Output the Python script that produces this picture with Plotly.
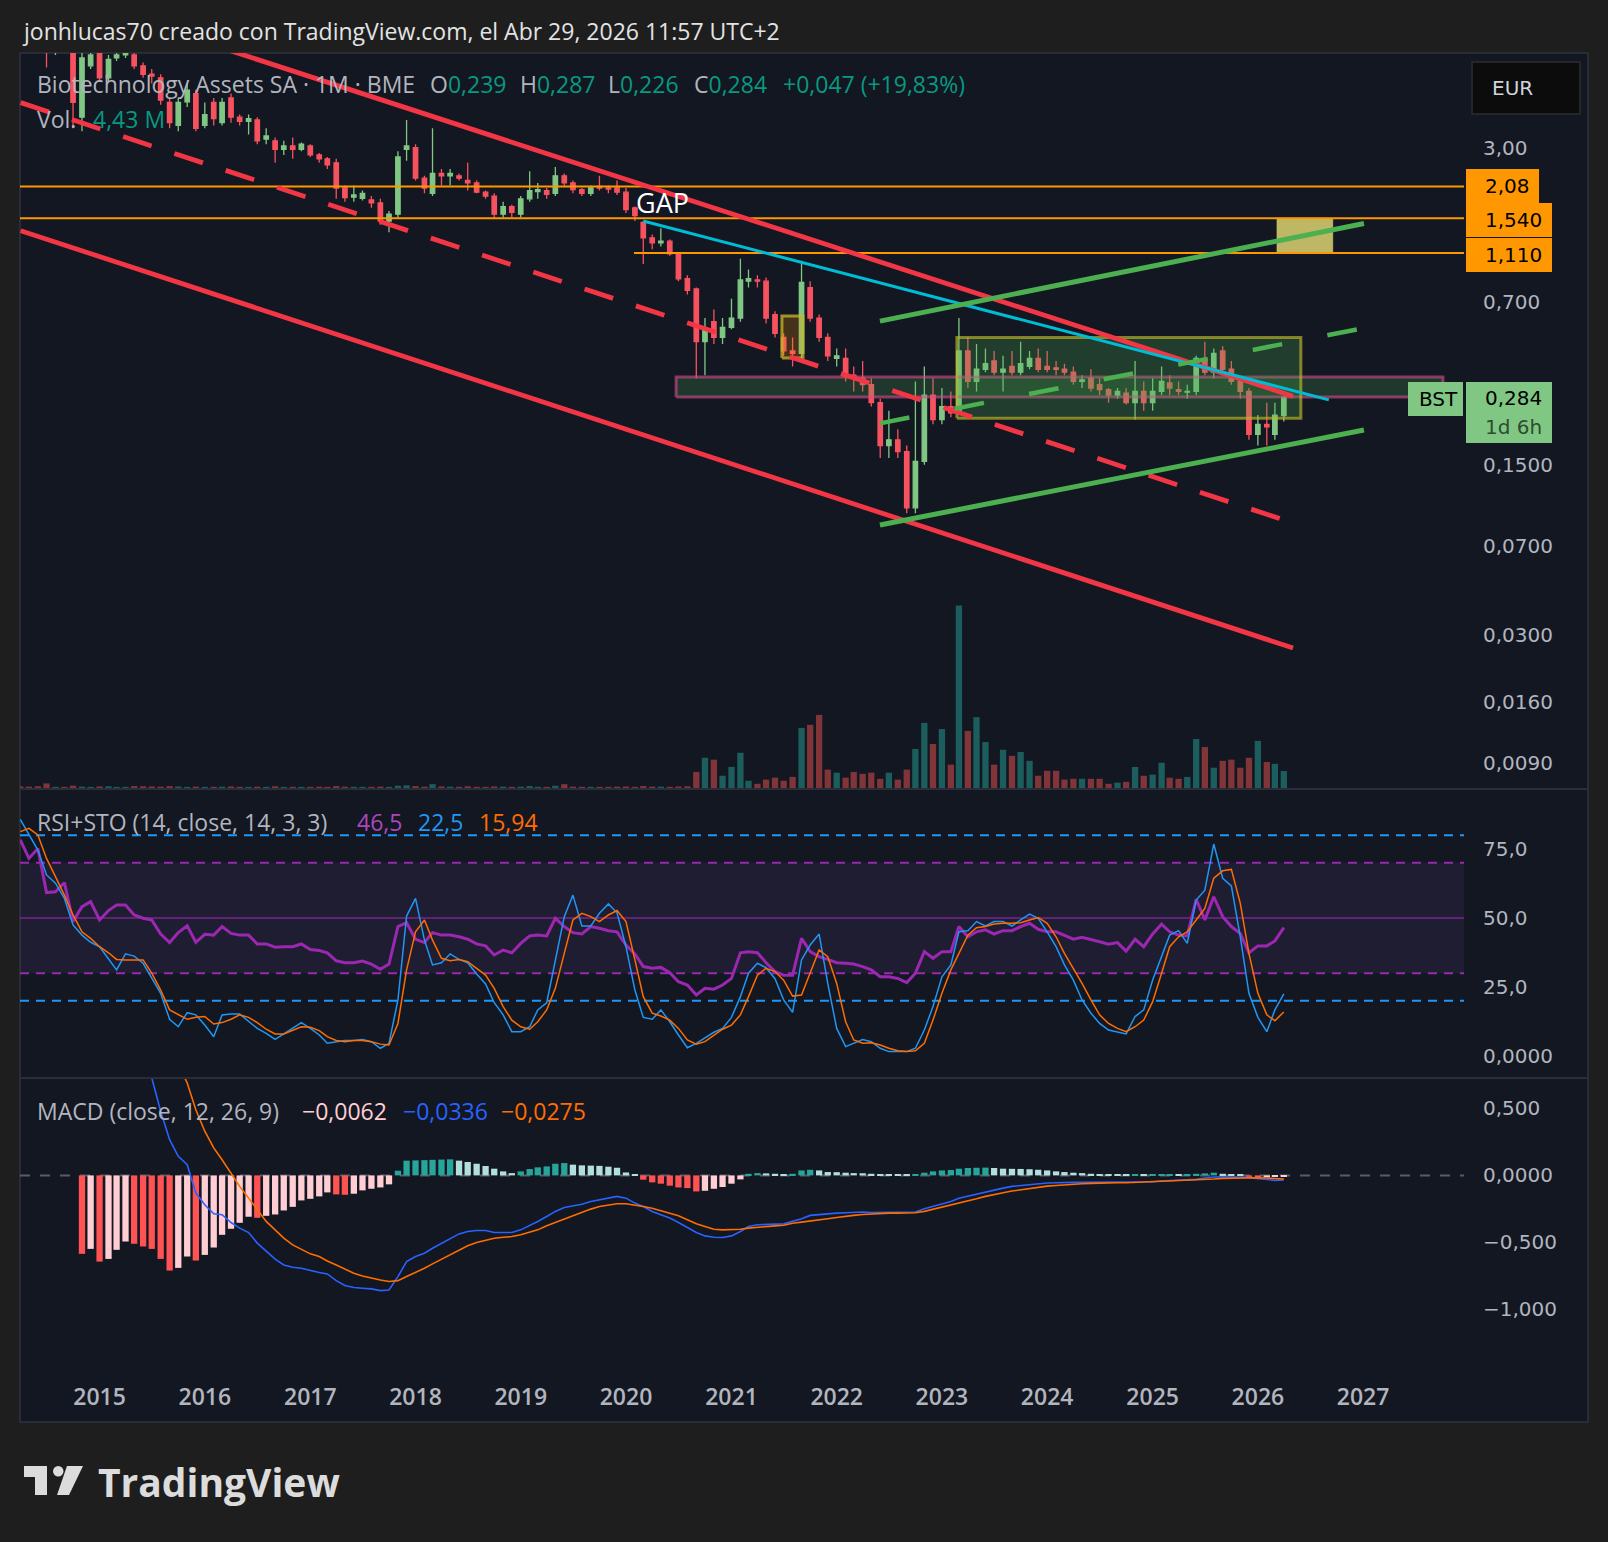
import plotly.graph_objects as go
import pandas as pd

W, H = 1608, 1542
def px(x): return x / W
def py(y): return 1 - y / H

BG_OUT = "#1e1e1e"
BG = "#131722"
TXT = "#b2b5be"
UP = "#81c784"
DN = "#f7525f"
TEAL_TXT = "#089981"
SANS = "Open Sans"
AXF = "DejaVu Sans"

# ---------------- data (monthly, Apr 2014 .. Apr 2026) ----------------
months = pd.date_range("2014-04-01", "2026-04-01", freq="MS")

open_ = [9.5, 9.2, 8.6, 8.2, 7.8, 8.0, 7.9, 4.0, 6.5,
         7.3, 5.8, 7.0, 7.2, 7.2, 6.5, 6.0, 5.8, 4.6, 3.7, 4.62, 5.0,
         3.7, 4.6, 3.8, 4.8, 4.0, 3.85, 3.9, 3.25, 3.2, 2.95, 3.05, 2.95,
         3.05, 2.8, 2.7, 2.6, 2.05, 1.88, 1.86, 1.83, 1.78, 1.5, 1.6, 2.95,
         3.0, 2.25, 1.95, 2.35, 2.3, 2.3, 2.2, 2.15, 1.97, 1.9, 1.6, 1.72,
         1.6, 1.85, 1.98, 2.0, 1.95, 2.3, 2.15, 2.02, 1.95, 2.08, 2.05, 2.05,
         1.97, 1.7, 1.48, 1.28, 1.22, 1.24, 1.1, 0.87, 0.79, 0.48, 0.58, 0.5,
         0.55, 0.6, 0.85, 0.86, 0.85, 0.62, 0.5, 0.44, 0.43, 0.8, 0.6, 0.5,
         0.41, 0.41, 0.35, 0.34, 0.32, 0.27, 0.18, 0.19, 0.17, 0.1, 0.155, 0.29,
         0.23, 0.26, 0.245, 0.44, 0.33, 0.37, 0.4, 0.36, 0.38, 0.36, 0.38, 0.41,
         0.38, 0.375, 0.37, 0.36, 0.33, 0.34, 0.32, 0.305, 0.29, 0.295, 0.27, 0.3,
         0.27, 0.3, 0.325, 0.305, 0.298, 0.3, 0.41, 0.36, 0.44, 0.37, 0.33, 0.3,
         0.2, 0.22, 0.2, 0.239]
high = [10.5, 9.8, 9.4, 8.8, 8.3, 8.6, 8.2, 7.4, 7.5,
        7.6, 7.2, 7.5, 8.5, 7.8, 6.7, 6.3, 6.0, 4.8, 4.8, 5.5, 5.2,
        4.6, 4.8, 4.8, 5.0, 4.1, 4.1, 4.0, 3.6, 3.3, 3.2, 3.3, 3.15,
        3.1, 2.85, 2.75, 2.7, 2.1, 2.1, 2.0, 1.9, 1.85, 1.65, 2.9, 3.9,
        3.1, 2.3, 3.6, 2.45, 2.45, 2.35, 2.6, 2.2, 2.0, 1.95, 1.8, 1.75,
        1.9, 2.4, 2.15, 2.05, 2.5, 2.35, 2.2, 2.05, 2.1, 2.3, 2.1, 2.2,
        2.05, 1.72, 1.5, 1.32, 1.4, 1.26, 1.12, 0.9, 0.8, 0.6, 0.65, 0.6,
        0.72, 1.05, 0.95, 0.9, 0.88, 0.64, 0.52, 0.5, 1.03, 0.85, 0.62, 0.52,
        0.45, 0.45, 0.38, 0.4, 0.34, 0.28, 0.25, 0.21, 0.18, 0.33, 0.38, 0.34,
        0.31, 0.3, 0.6, 0.5, 0.47, 0.45, 0.44, 0.42, 0.44, 0.48, 0.44, 0.45,
        0.44, 0.4, 0.39, 0.38, 0.35, 0.37, 0.34, 0.31, 0.31, 0.31, 0.4, 0.33,
        0.34, 0.38, 0.35, 0.33, 0.32, 0.42, 0.48, 0.45, 0.46, 0.4, 0.34, 0.31,
        0.24, 0.27, 0.27, 0.287]
low = [8.8, 8.4, 7.9, 6.4, 7.2, 7.4, 3.6, 3.5, 6.3,
       5.6, 5.6, 6.8, 7.0, 6.3, 5.8, 5.5, 4.5, 3.6, 3.5, 4.4, 3.5,
       3.6, 3.7, 3.7, 3.8, 3.7, 3.4, 3.1, 3.1, 2.6, 2.8, 2.7, 2.9,
       2.75, 2.6, 2.45, 1.85, 1.8, 1.8, 1.82, 1.7, 1.45, 1.35, 1.55, 2.65,
       2.2, 1.95, 1.9, 2.1, 2.1, 2.2, 2.0, 1.95, 1.85, 1.55, 1.55, 1.55,
       1.55, 1.8, 1.85, 1.85, 1.9, 2.1, 1.95, 1.9, 1.9, 2.0, 1.95, 1.92,
       1.62, 1.5, 1.0, 1.15, 1.18, 1.08, 0.85, 0.75, 0.34, 0.35, 0.47, 0.47,
       0.54, 0.58, 0.8, 0.8, 0.57, 0.5, 0.42, 0.38, 0.4, 0.58, 0.48, 0.4,
       0.38, 0.33, 0.3, 0.3, 0.26, 0.16, 0.16, 0.16, 0.095, 0.095, 0.15, 0.22,
       0.22, 0.235, 0.24, 0.31, 0.3, 0.36, 0.35, 0.3, 0.35, 0.35, 0.37, 0.36,
       0.36, 0.35, 0.35, 0.32, 0.31, 0.3, 0.29, 0.27, 0.28, 0.265, 0.23, 0.25,
       0.25, 0.29, 0.29, 0.29, 0.28, 0.29, 0.35, 0.34, 0.35, 0.32, 0.28, 0.19,
       0.18, 0.18, 0.19, 0.226]
close = [9.2, 8.6, 8.2, 7.6, 8.0, 7.9, 4.6, 7.0, 7.2,
         5.8, 6.9, 7.2, 7.6, 6.5, 6.0, 5.9, 4.7, 3.8, 4.6, 5.17, 3.6,
         4.1, 3.95, 4.6, 4.0, 3.85, 3.95, 3.2, 3.35, 2.95, 3.05, 2.95, 3.1,
         2.8, 2.7, 2.55, 2.05, 1.87, 1.92, 1.95, 1.78, 1.5, 1.6, 2.75, 3.05,
         2.25, 2.05, 2.35, 2.3, 2.35, 2.25, 2.15, 1.97, 1.9, 1.6, 1.72, 1.63,
         1.85, 2.0, 2.02, 1.93, 2.3, 2.15, 2.02, 1.95, 2.05, 2.05, 2.03, 1.97,
         1.67, 1.58, 1.28, 1.22, 1.24, 1.1, 0.87, 0.78, 0.48, 0.54, 0.5, 0.55,
         0.6, 0.86, 0.87, 0.85, 0.6, 0.52, 0.44, 0.43, 0.84, 0.6, 0.5, 0.42,
         0.42, 0.35, 0.34, 0.32, 0.27, 0.18, 0.19, 0.17, 0.1, 0.155, 0.29, 0.23,
         0.26, 0.245, 0.44, 0.33, 0.37, 0.39, 0.36, 0.37, 0.36, 0.39, 0.41, 0.37,
         0.37, 0.37, 0.36, 0.33, 0.335, 0.31, 0.305, 0.29, 0.3, 0.27, 0.3, 0.27,
         0.3, 0.33, 0.31, 0.3, 0.3, 0.41, 0.36, 0.43, 0.37, 0.33, 0.3, 0.2,
         0.22, 0.215, 0.24, 0.284]
volume_m = [0.4, 0.35, 0.45, 1.2, 0.3, 0.3, 0.6, 0.35, 0.3,
            0.4, 0.45, 0.3, 0.3, 0.5, 0.45, 0.4, 0.35, 0.5, 0.4, 0.3, 0.35,
            0.3, 0.3, 0.35, 0.4, 0.3, 0.3, 0.35, 0.3, 0.45, 0.3, 0.3, 0.3,
            0.3, 0.35, 0.3, 0.5, 0.35, 0.3, 0.3, 0.3, 0.35, 0.3, 0.6, 0.7,
            0.5, 0.35, 1.0, 0.4, 0.35, 0.3, 0.45, 0.3, 0.3, 0.4, 0.35, 0.3,
            0.35, 0.5, 0.3, 0.3, 0.6, 1.0, 0.35, 0.3, 0.3, 0.3, 0.3, 0.35,
            0.4, 0.3, 0.5, 0.35, 0.35, 0.3, 0.4, 0.45, 4.2, 7.9, 7.4, 3.2,
            5.5, 9.2, 1.9, 1.1, 2.2, 2.7, 1.9, 2.9, 15.7, 16.5, 19.1, 4.8,
            4.0, 2.7, 4.2, 3.7, 4.0, 2.4, 4.0, 2.2, 4.8, 10.2, 17.0, 11.5,
            15.4, 6.1, 47.7, 14.9, 18.5, 12.0, 6.1, 10.0, 8.4, 9.4, 7.1, 3.2,
            4.5, 4.5, 2.2, 2.4, 2.4, 2.4, 2.4, 1.1, 1.4, 1.6, 5.5, 3.2,
            3.5, 6.6, 2.7, 2.4, 2.9, 12.8, 10.7, 5.3, 7.1, 7.4, 5.3, 7.9,
            12.3, 6.8, 6.3, 4.43]

rsi = [78.3, 71.6, 75.2, 59.2, 59.5, 62.8, 48.7, 54.1, 55.9,
       49.3, 52.7, 54.7, 54.7, 51.1, 49.9, 49.3, 44.2, 41.1, 44.7, 47.2, 41.2,
       44.1, 43.8, 46.9, 44.4, 43.8, 43.8, 40.6, 40.6, 39.4, 39.6, 39.6, 40.6,
       38.6, 38.2, 37.4, 34.5, 33.8, 33.8, 34.4, 33.3, 31.4, 33.3, 46.9, 48.3,
       42.3, 41.1, 44.7, 43.8, 43.8, 43.2, 42.3, 40.6, 39.9, 36.6, 38.4, 37.4,
       40.8, 43.5, 43.8, 43.5, 49.9, 46.9, 44.7, 44.2, 46.9, 46.3, 45.4, 45.0,
       40.2, 37.0, 32.4, 31.8, 32.1, 30.2, 26.9, 25.7, 22.1, 24.5, 24.2, 25.7,
       28.1, 37.4, 37.8, 37.4, 33.8, 30.6, 29.3, 29.3, 42.6, 37.8, 36.0, 35.0,
       33.8, 33.6, 33.3, 32.4, 31.2, 28.7, 28.7, 28.1, 26.6, 30.0, 37.8, 35.4,
       37.8, 37.8, 46.9, 43.2, 45.0, 45.7, 44.2, 45.4, 45.4, 46.9, 48.1, 45.9,
       45.0, 45.0, 43.8, 42.3, 43.0, 42.3, 41.4, 40.5, 41.1, 38.0, 42.3, 39.6,
       44.2, 47.8, 45.0, 43.8, 43.5, 56.8, 49.3, 57.7, 50.5, 46.9, 44.4, 37.4,
       39.9, 39.9, 41.7, 46.5]
stoch_k = [85.7, 80.1, 74.6, 65.6, 62.6, 57.1, 47.5, 43.8, 41.2,
           39.6, 35.4, 31.2, 37.0, 36.2, 33.6, 28.1, 22.7, 13.3, 10.6, 15.7, 14.9,
           11.2, 7.0, 14.9, 15.2, 15.2, 12.4, 10.0, 8.2, 6.0, 8.0, 10.0, 12.1,
           10.0, 7.6, 4.6, 5.2, 5.6, 5.6, 6.0, 5.2, 2.8, 4.6, 20.3, 50.7,
           57.1, 42.0, 33.0, 33.8, 37.0, 35.0, 33.8, 29.7, 26.1, 19.3, 14.9, 8.8,
           8.8, 10.6, 16.7, 19.3, 34.2, 50.5, 58.3, 47.1, 47.1, 51.7, 55.1, 51.9,
           39.6, 23.9, 14.0, 13.3, 16.7, 12.4, 7.6, 3.0, 4.6, 6.5, 8.6, 10.0,
           14.0, 21.5, 30.0, 33.6, 32.0, 28.0, 20.3, 15.8, 34.8, 40.2, 44.2, 26.3,
           10.0, 3.4, 4.6, 6.0, 5.2, 2.8, 1.6, 1.6, 1.6, 2.8, 9.4, 17.9,
           28.7, 33.0, 45.0, 45.4, 48.7, 47.1, 48.7, 48.7, 47.1, 49.3, 51.4, 49.9,
           45.0, 39.6, 33.0, 27.5, 20.3, 15.5, 11.8, 9.4, 8.8, 8.0, 14.3, 16.7,
           27.5, 36.0, 43.8, 45.4, 40.8, 56.5, 60.1, 76.8, 64.4, 61.6, 43.2, 22.7,
           14.0, 8.8, 16.7, 22.5]
stoch_d = [81.3, 82.5, 80.1, 71.6, 65.0, 58.3, 51.1, 45.0, 42.6,
           39.6, 37.4, 35.0, 34.8, 34.8, 34.8, 30.0, 23.9, 16.7, 14.9, 13.3, 14.0,
           14.3, 11.6, 12.1, 13.3, 14.9, 14.0, 12.1, 9.7, 8.0, 8.0, 9.2, 10.6,
           10.4, 9.2, 7.0, 5.6, 5.2, 5.6, 5.6, 5.2, 4.3, 4.0, 11.8, 31.2,
           45.0, 49.3, 42.0, 35.4, 34.5, 35.0, 34.2, 31.8, 29.3, 24.5, 17.9, 13.0,
           10.6, 9.7, 12.4, 16.7, 24.5, 37.2, 49.3, 51.7, 50.5, 48.7, 51.1, 52.7,
           48.7, 34.8, 21.5, 15.5, 14.5, 13.0, 10.0, 5.8, 4.3, 5.2, 7.6, 9.7,
           11.2, 14.9, 21.5, 29.3, 31.8, 30.6, 27.5, 21.7, 22.1, 30.0, 38.4, 36.0,
           26.3, 12.4, 5.8, 4.6, 4.8, 4.0, 2.8, 1.9, 1.6, 1.9, 4.6, 13.0,
           22.7, 31.2, 37.2, 43.8, 46.5, 46.9, 47.8, 48.1, 48.1, 48.3, 49.3, 50.2,
           48.1, 43.2, 37.2, 31.8, 26.3, 20.3, 14.9, 11.8, 10.0, 8.8, 10.6, 13.0,
           19.7, 30.0, 39.6, 43.2, 45.0, 49.3, 53.5, 64.4, 67.1, 67.6, 55.3, 37.2,
           22.7, 14.9, 12.8, 15.94]

macd_hist = [None, None, None, None, None, None, None, -0.586, -0.549,
             -0.644, -0.624, -0.556, -0.494, -0.511, -0.531, -0.549, -0.624, -0.711, -0.691, -0.606, -0.636,
             -0.594, -0.539, -0.444, -0.399, -0.354, -0.309, -0.317, -0.302, -0.292, -0.262, -0.235, -0.187,
             -0.175, -0.157, -0.127, -0.142, -0.145, -0.137, -0.112, -0.1, -0.09, -0.067, 0.035, 0.11,
             0.112, 0.114, 0.116, 0.118, 0.12, 0.11, 0.1, 0.087, 0.07, 0.05, 0.03, 0.017,
             0.03, 0.047, 0.06, 0.067, 0.087, 0.092, 0.08, 0.075, 0.073, 0.071, 0.065, 0.057,
             0.022, 0.005, -0.032, -0.052, -0.062, -0.077, -0.09, -0.095, -0.12, -0.115, -0.1, -0.087,
             -0.062, -0.03, 0.012, 0.017, 0.015, 0.012, 0.007, 0.012, 0.037, 0.042, 0.037, 0.025,
             0.024, 0.02, 0.017, 0.016, 0.012, 0.007, 0.005, 0.004, 0.003, 0.01, 0.02, 0.03,
             0.037, 0.04, 0.05, 0.055, 0.057, 0.058, 0.055, 0.05, 0.049, 0.048, 0.046, 0.042,
             0.037, 0.03, 0.025, 0.02, 0.017, 0.012, 0.01, 0.007, 0.005, 0.004, 0.006, 0.005,
             0.006, 0.007, 0.008, 0.006, 0.007, 0.012, 0.015, 0.02, 0.012, 0.007, 0.005, -0.017,
             -0.018, -0.015, -0.012, -0.0062]
macd_line = [2.57, 2.56, 2.54, 2.5, 2.45, 2.38, 2.3, 2.2, 2.08,
             1.95, 1.8, 1.62, 1.42, 1.2, 0.97, 0.73, 0.479, 0.267, 0.142, 0.08, -0.132,
             -0.22, -0.287, -0.294, -0.352, -0.394, -0.427, -0.506, -0.569, -0.626, -0.669, -0.686, -0.694,
             -0.711, -0.726, -0.736, -0.786, -0.823, -0.838, -0.843, -0.848, -0.861, -0.856, -0.756, -0.644,
             -0.606, -0.581, -0.544, -0.506, -0.469, -0.437, -0.419, -0.412, -0.412, -0.427, -0.427, -0.427,
             -0.407, -0.377, -0.344, -0.307, -0.269, -0.24, -0.227, -0.215, -0.195, -0.182, -0.17, -0.157,
             -0.17, -0.207, -0.232, -0.269, -0.294, -0.319, -0.352, -0.387, -0.427, -0.452, -0.462, -0.464,
             -0.452, -0.419, -0.382, -0.369, -0.364, -0.364, -0.362, -0.344, -0.324, -0.299, -0.292, -0.289,
             -0.282, -0.279, -0.274, -0.274, -0.277, -0.277, -0.279, -0.279, -0.279, -0.274, -0.25, -0.232,
             -0.212, -0.195, -0.17, -0.155, -0.137, -0.12, -0.107, -0.095, -0.082, -0.075, -0.067, -0.062,
             -0.057, -0.055, -0.052, -0.052, -0.052, -0.052, -0.052, -0.052, -0.05, -0.05, -0.05, -0.05,
             -0.047, -0.042, -0.04, -0.037, -0.035, -0.03, -0.02, -0.012, -0.01, -0.01, -0.012, -0.017,
             -0.025, -0.032, -0.037, -0.0336]
macd_signal = [2.95, 2.95, 2.93, 2.92, 2.9, 2.88, 2.85, 2.79, 2.63,
               2.59, 2.42, 2.18, 1.91, 1.71, 1.5, 1.28, 1.1, 0.98, 0.83, 0.69, 0.49,
               0.33, 0.205, 0.117, 0.017, -0.082, -0.17, -0.257, -0.344, -0.407, -0.469, -0.519, -0.551,
               -0.586, -0.606, -0.639, -0.669, -0.701, -0.731, -0.751, -0.768, -0.781, -0.793, -0.786, -0.756,
               -0.726, -0.694, -0.661, -0.626, -0.594, -0.561, -0.526, -0.501, -0.482, -0.469, -0.462, -0.457,
               -0.444, -0.427, -0.407, -0.377, -0.352, -0.327, -0.302, -0.277, -0.252, -0.232, -0.22, -0.212,
               -0.212, -0.22, -0.232, -0.245, -0.262, -0.282, -0.302, -0.332, -0.362, -0.382, -0.402, -0.407,
               -0.407, -0.402, -0.394, -0.387, -0.382, -0.377, -0.372, -0.357, -0.349, -0.342, -0.332, -0.324,
               -0.314, -0.304, -0.299, -0.292, -0.287, -0.284, -0.282, -0.282, -0.279, -0.279, -0.269, -0.254,
               -0.24, -0.225, -0.207, -0.192, -0.175, -0.157, -0.142, -0.13, -0.117, -0.107, -0.097, -0.087,
               -0.08, -0.075, -0.07, -0.065, -0.062, -0.06, -0.057, -0.057, -0.055, -0.055, -0.052, -0.052,
               -0.05, -0.047, -0.045, -0.042, -0.04, -0.037, -0.032, -0.027, -0.022, -0.02, -0.018, -0.018,
               -0.018, -0.02, -0.024, -0.0275]

# drawn objects (date, price)
red_channel_top = (["2015-01-01", "2026-05-03"], [11.2, 0.287])
red_channel_bottom = (["2014-04-02", "2026-05-03"], [1.37, 0.0266])
red_channel_mid = (["2014-04-02", "2026-04-12"], [4.59, 0.0883])
cyan_line = (["2020-03-01", "2026-09-04"], [1.5, 0.277])
green_channel_top = (["2022-05-31", "2027-01-04"], [0.583, 1.466])
green_channel_bottom = (["2022-05-31", "2027-01-04"], [0.085, 0.2085])
green_channel_mid = (["2022-05-31", "2027-01-04"], [0.222, 0.546])
level_208 = (["2014-03-31", "2027-12-17"], [2.08, 2.08])
level_154 = (["2014-03-31", "2027-12-17"], [1.54, 1.54])
level_111 = (["2020-01-29", "2027-12-17"], [1.11, 1.11])
range_box = (["2023-02-22", "2026-05-30"], [0.233, 0.5])
support_box = (["2020-06-23", "2027-10-05"], [0.285, 0.344])
small_box = (["2021-06-25", "2021-09-06"], [0.412, 0.612])
target_box = (["2026-03-08", "2026-09-18"], [1.11, 1.54])

price_ticks = [3.0, 0.7, 0.15, 0.07, 0.03, 0.016, 0.009]
price_tick_text = ["3,00", "0,700", "0,1500", "0,0700", "0,0300", "0,0160", "0,0090"]
rsi_ticks = [0, 25, 50, 75]
rsi_tick_text = ["0,0000", "25,0", "50,0", "75,0"]
macd_ticks = [0.5, 0, -0.5, -1.0]
macd_tick_text = ["0,500", "0,0000", "\u22120,500", "\u22121,000"]
year_ticks = [f"{y}-01-01" for y in range(2015, 2028)]
year_text = [str(y) for y in range(2015, 2028)]

X_RANGE = ["2014-03-31", "2027-12-17"]

# ---------------- figure ----------------
fig = go.Figure()

vol_colors = ["rgba(38,166,154,0.5)" if c >= o else "rgba(239,83,80,0.5)"
              for o, c in zip(open_, close)]
fig.add_trace(go.Bar(x=months, y=volume_m, marker=dict(color=vol_colors, line=dict(width=0)),
                     xaxis="x", yaxis="y", hoverinfo="skip"))

fig.add_trace(go.Candlestick(x=months, open=open_, high=high, low=low, close=close,
                             xaxis="x", yaxis="y2", whiskerwidth=0,
                             increasing=dict(line=dict(color=UP, width=1.3), fillcolor=UP),
                             decreasing=dict(line=dict(color=DN, width=1.3), fillcolor=DN),
                             hoverinfo="skip"))

def box_trace(b, fill, line, lw):
    (x0, x1), (y0, y1) = b
    return go.Scatter(x=[x0, x1, x1, x0, x0], y=[y0, y0, y1, y1, y0], mode="lines",
                      fill="toself", fillcolor=fill, line=dict(color=line, width=lw),
                      xaxis="x", yaxis="y2", hoverinfo="skip")

fig.add_trace(box_trace(support_box, "rgba(76,175,80,0.22)", "rgba(214,76,140,0.6)", 3))
fig.add_trace(box_trace(range_box, "rgba(76,175,80,0.25)", "rgba(190,185,40,0.65)", 3))
fig.add_trace(box_trace(small_box, "rgba(255,152,0,0.22)", "rgba(200,185,40,0.75)", 3))
fig.add_trace(box_trace(target_box, "rgba(214,206,110,0.88)", "rgba(214,206,110,0.88)", 0.5))

def line_trace(seg, color, width, dash="solid"):
    return go.Scatter(x=seg[0], y=seg[1], mode="lines", line=dict(color=color, width=width, dash=dash),
                      xaxis="x", yaxis="y2", hoverinfo="skip")

for lv in (level_208, level_154, level_111):
    fig.add_trace(line_trace(lv, "#ff9800", 2))
fig.add_trace(line_trace(red_channel_top, "#f23645", 4.8))
fig.add_trace(line_trace(red_channel_bottom, "#f23645", 4.8))
fig.add_trace(line_trace(red_channel_mid, "#f23645", 4.8, "30px,24px"))
fig.add_trace(line_trace(cyan_line, "#00bcd4", 3))
fig.add_trace(line_trace(green_channel_top, "#4caf50", 5))
fig.add_trace(line_trace(green_channel_bottom, "#4caf50", 5))
fig.add_trace(line_trace(green_channel_mid, "#4caf50", 4.5, "30px,46px"))

# RSI pane
fig.add_trace(go.Scatter(x=months, y=rsi, mode="lines", line=dict(color="#9c27b0", width=3),
                         xaxis="x2", yaxis="y3", hoverinfo="skip"))
fig.add_trace(go.Scatter(x=months, y=stoch_k, mode="lines", line=dict(color="#2196f3", width=1.5),
                         xaxis="x2", yaxis="y3", hoverinfo="skip"))
fig.add_trace(go.Scatter(x=months, y=stoch_d, mode="lines", line=dict(color="#ff6d00", width=1.5),
                         xaxis="x2", yaxis="y3", hoverinfo="skip"))

# MACD pane
hx, hy, hc = [], [], []
prev = None
for d, v in zip(months, macd_hist):
    if v is None:
        continue
    if v >= 0:
        col = "#26a69a" if (prev is None or v >= prev) else "#b2dfdb"
    else:
        col = "#ffcdd2" if (prev is not None and v > prev) else "#ff5252"
    hx.append(d); hy.append(v); hc.append(col)
    prev = v
fig.add_trace(go.Bar(x=hx, y=hy, marker=dict(color=hc, line=dict(width=0)),
                     xaxis="x3", yaxis="y4", hoverinfo="skip"))
fig.add_trace(go.Scatter(x=months, y=macd_line, mode="lines", line=dict(color="#2962ff", width=1.6),
                         xaxis="x3", yaxis="y4", hoverinfo="skip"))
fig.add_trace(go.Scatter(x=months, y=macd_signal, mode="lines", line=dict(color="#ff6d00", width=1.6),
                         xaxis="x3", yaxis="y4", hoverinfo="skip"))

# ---------------- layout ----------------
PL, PR = 20, 1464
XD = [px(PL), px(PR)]
tickfont = dict(family=AXF, size=20, color=TXT)

def yax(**kw):
    base = dict(showgrid=False, zeroline=False, showline=False, side="right",
                ticks="outside", ticklen=14, tickcolor="rgba(0,0,0,0)",
                tickfont=tickfont, tickmode="array", fixedrange=True)
    base.update(kw)
    return base

fig.update_layout(
    width=W, height=H, margin=dict(l=0, r=0, t=0, b=0),
    paper_bgcolor=BG_OUT, plot_bgcolor=BG, showlegend=False, hovermode=False,
    bargap=0.22, boxgap=0.22,
    font=dict(family=SANS, color=TXT),
    xaxis=dict(domain=XD, anchor="y", type="date", range=X_RANGE, visible=False,
               rangeslider=dict(visible=False), showgrid=False),
    yaxis=dict(domain=[py(788), py(53)], anchor="x", range=[0, 192], visible=False, showgrid=False),
    yaxis2=yax(overlaying="y", anchor="x", type="log", range=[-2.1493, 0.8654],
               tickvals=price_ticks, ticktext=price_tick_text),
    xaxis2=dict(domain=XD, anchor="y3", type="date", range=X_RANGE, visible=False, showgrid=False),
    yaxis3=yax(domain=[py(1077), py(790)], anchor="x2", range=[-7.61, 96.38],
               tickvals=rsi_ticks, ticktext=rsi_tick_text),
    xaxis3=dict(domain=XD, anchor="y4", type="date", range=X_RANGE, showgrid=False, zeroline=False,
                showline=False, tickmode="array", tickvals=year_ticks, ticktext=year_text,
                ticks="outside", ticklen=1, tickcolor="rgba(0,0,0,0)", ticklabelstandoff=-3,
                tickfont=dict(family=SANS, size=23, color=TXT, weight=600)),
    yaxis4=yax(domain=[py(1378), py(1079)], anchor="x3", range=[-1.5135, 0.720],
               tickvals=macd_ticks, ticktext=macd_tick_text),
)

shapes = []
def prect(x0, y0, x1, y1, fill, line="rgba(0,0,0,0)", lw=0, layer="above"):
    shapes.append(dict(type="rect", xref="paper", yref="paper", x0=px(x0), x1=px(x1),
                       y0=py(y1), y1=py(y0), fillcolor=fill, line=dict(color=line, width=lw), layer=layer))

# chart frame
prect(20, 53, 1588, 1422, BG, "#2f333e", 1.5, layer="below")
for yy in (789, 1078):
    shapes.append(dict(type="line", xref="paper", yref="paper", x0=px(20), x1=px(1588),
                       y0=py(yy), y1=py(yy), line=dict(color="#2a2e39", width=2), layer="below"))

# RSI levels
shapes.append(dict(type="rect", xref="paper", yref="y3", x0=px(PL), x1=px(PR), y0=30, y1=70,
                   fillcolor="rgba(126,87,194,0.10)", line=dict(width=0), layer="below"))
for val, col, dash in ((80, "#2196f3", "9px,7px"), (20, "#2196f3", "9px,7px"),
                       (70, "#9c27b0", "9px,7px"), (30, "#9c27b0", "9px,7px"),
                       (50, "rgba(156,39,176,0.55)", "solid")):
    shapes.append(dict(type="line", xref="paper", yref="y3", x0=px(PL), x1=px(PR), y0=val, y1=val,
                       line=dict(color=col, width=2, dash=dash), layer="below"))
# MACD zero line
shapes.append(dict(type="line", xref="paper", yref="y4", x0=px(PL), x1=px(PR), y0=0, y1=0,
                   line=dict(color="rgba(120,123,134,0.7)", width=2, dash="10px,10px"), layer="below"))

# price labels on the scale
prect(1466, 169, 1539, 203, "#ff9800")
prect(1466, 203, 1552, 237, "#ff9800")
prect(1466, 238, 1552, 272, "#ff9800")
prect(1408, 382, 1463, 416, "#81c784")
prect(1466, 382, 1552, 443, "#81c784")
prect(1472, 62, 1580, 114, "#0c0c0c", "#2e2e2e", 1.5)

# TradingView logo
LOGO = "#dcdcdc"
prect(24, 1466, 47, 1477, LOGO)
prect(35, 1466, 47, 1495, LOGO)
shapes.append(dict(type="circle", xref="paper", yref="paper", x0=px(53), x1=px(63.5),
                   y0=py(1476.5), y1=py(1466), fillcolor=LOGO, line=dict(width=0)))
shapes.append(dict(type="path", xref="paper", yref="paper",
                   path=f"M {px(67)} {py(1466)} L {px(83)} {py(1466)} L {px(69)} {py(1495)} L {px(57)} {py(1495)} Z",
                   fillcolor=LOGO, line=dict(width=0)))
fig.update_layout(shapes=shapes)

ann = []
def text(x, y, t, size=23, color=TXT, family=SANS, anchor="left", weight=None):
    f = dict(family=family, size=size, color=color)
    if weight:
        f["weight"] = weight
    ann.append(dict(xref="paper", yref="paper", x=px(x), y=py(y), xanchor=anchor, yanchor="middle",
                    text=t, showarrow=False, font=f))

def tv(lbl, val, col=TEAL_TXT):
    return f'{lbl}<span style="color:{col}">{val}</span>'

text(20, 31, "jonhlucas70 creado con TradingView.com, el Abr 29, 2026 11:57 UTC+2", color="#e3e3e3")
text(35, 84, "Biotechnology Assets SA · 1M · BME")
text(428, 84, tv("O", "0,239"))
text(518, 84, tv("H", "0,287"))
text(606, 84, tv("L", "0,226"))
text(692, 84, tv("C", "0,284"))
text(781, 84, "+0,047 (+19,83%)", color=TEAL_TXT)
text(35, 119, "Vol.")
text(91, 119, "4,43 M", color=TEAL_TXT)
text(35, 822, "RSI+STO (14, close, 14, 3, 3)")
text(355, 822, "46,5", color="#ab47bc")
text(416, 822, "22,5", color="#2196f3")
text(477, 822, "15,94", color="#ff6d00")
text(35, 1111, "MACD (close, 12, 26, 9)")
text(300, 1111, "\u22120,0062", color="#ffcdd2")
text(401, 1111, "\u22120,0336", color="#2962ff")
text(499, 1111, "\u22120,0275", color="#ff6d00")
text(634, 203, "GAP", size=27, color="#ffffff")
text(1483, 186, "2,08", size=20, color="#000000", family=AXF)
text(1483, 220, "1,540", size=20, color="#000000", family=AXF)
text(1483, 255, "1,110", size=20, color="#000000", family=AXF)
text(1417, 399, "BST", size=20, color="#000000", family=AXF)
text(1483, 398, "0,284", size=20, color="#000000", family=AXF)
text(1483, 427, "1d 6h", size=20, color="#2e4d30", family=AXF)
text(1490, 88, "EUR", size=20, color="#d1d4dc", family=AXF)
text(96, 1481, "TradingView", size=39, color=LOGO, weight="bold")
fig.update_layout(annotations=ann)

fig.write_html("out.html")
